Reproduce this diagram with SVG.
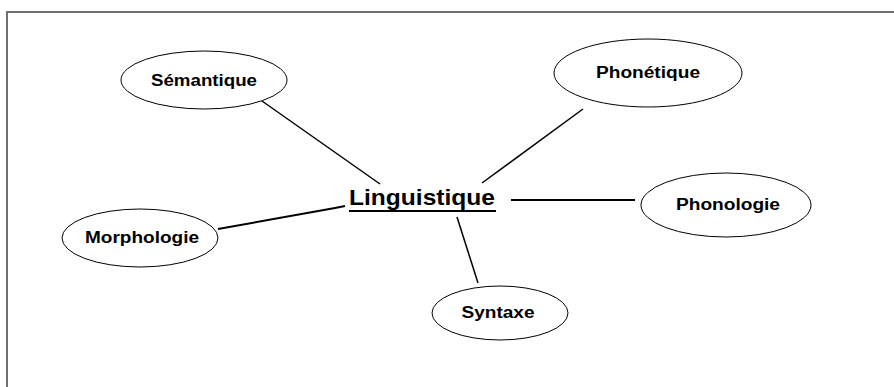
<svg xmlns="http://www.w3.org/2000/svg" width="894" height="387" viewBox="0 0 894 387">
<style>
.node ellipse{fill:#fff;stroke:#000;stroke-width:1}
.node text{font-family:"Liberation Sans",Arial,sans-serif;font-weight:bold;font-size:16px;fill:#000;text-anchor:middle}
.edges line{stroke:#000;stroke-width:1.5}
.frame{stroke:#707070;stroke-width:2;fill:none}
</style>
<rect width="894" height="387" fill="#fff"/>
<path class="frame" d="M7 387 V12 H894"/>
<g class="edges">
<line x1="262" y1="101" x2="380" y2="184"/>
<line x1="583" y1="109" x2="482" y2="183"/>
<line x1="511" y1="200" x2="635" y2="200" style="stroke-width:2"/>
<path d="M218 229 L335 208 L345 206" fill="none" stroke="#000" stroke-width="2"/>
<line x1="457" y1="217" x2="478" y2="283"/>
</g>
<g id="linguistique">
<text x="422" y="205" style="font-family:'Liberation Sans',Arial,sans-serif;font-weight:bold;font-size:22px;text-anchor:middle" textLength="146" lengthAdjust="spacingAndGlyphs">Linguistique</text>
<line x1="349" y1="211" x2="496" y2="211" stroke="#000" stroke-width="2"/>
</g>
<g id="semantique" class="node">
<ellipse cx="204" cy="80" rx="83" ry="29"/>
<text x="204" y="86" textLength="106" lengthAdjust="spacingAndGlyphs">Sémantique</text>
</g>
<g id="phonetique" class="node">
<ellipse cx="648" cy="73" rx="94" ry="34"/>
<text x="648" y="78" textLength="104" lengthAdjust="spacingAndGlyphs">Phonétique</text>
</g>
<g id="phonologie" class="node">
<ellipse cx="726" cy="205" rx="85" ry="32"/>
<text x="728" y="210" textLength="104" lengthAdjust="spacingAndGlyphs">Phonologie</text>
</g>
<g id="morphologie" class="node">
<ellipse cx="140" cy="238" rx="78" ry="29"/>
<text x="142" y="243" textLength="114" lengthAdjust="spacingAndGlyphs">Morphologie</text>
</g>
<g id="syntaxe" class="node">
<ellipse cx="500" cy="313" rx="68" ry="27"/>
<text x="498" y="318" textLength="73" lengthAdjust="spacingAndGlyphs">Syntaxe</text>
</g>
</svg>
